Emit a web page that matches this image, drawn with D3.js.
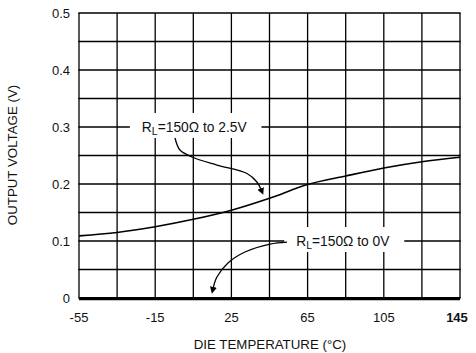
<!DOCTYPE html>
<html><head><meta charset="utf-8">
<script src="https://cdn.jsdelivr.net/npm/d3@7"></script>
<style>
body{margin:0;background:#fff}
svg{display:block}
text{font-family:"Liberation Sans",Arial,sans-serif;fill:#111}
</style>
</head><body><svg id="c" width="476" height="353"></svg>
<script>
// ---- data ----
const temps = [-55, -35, -15, 5, 25, 45, 65, 85, 105, 125, 145];
const vout25V = [0.109, 0.115, 0.125, 0.138, 0.154, 0.175, 0.199, 0.214, 0.228, 0.239, 0.247];
const vout0V = [0, 0, 0, 0, 0, 0, 0, 0, 0, 0, 0];
const xTickLabels = [-55, -15, 25, 65, 105, 145];
const yTickLabels = [0, 0.1, 0.2, 0.3, 0.4, 0.5];
const xGridValues = [-55, -35, -15, 5, 25, 45, 65, 85, 105, 125, 145];
const yGridValues = [0, 0.05, 0.1, 0.15, 0.2, 0.25, 0.3, 0.35, 0.4, 0.45, 0.5];
const labelTexts = [["R", "L", "=150\u03A9 to 2.5V"], ["R", "L", "=150\u03A9 to 0V"]];

// ---- layout ----
const margin = {left: 79, top: 13, right: 16, bottom: 55};
const W = 476, H = 353;
const svg = d3.select("#c");
const x = d3.scaleLinear().domain([-55, 145]).range([margin.left, W - margin.right]);
const y = d3.scaleLinear().domain([0, 0.5]).range([H - margin.bottom, margin.top]);

const g = svg.append("g");

// grid
g.append("g").attr("class", "vgrid")
  .selectAll("line").data(xGridValues).join("line")
  .attr("x1", d => x(d)).attr("x2", d => x(d))
  .attr("y1", y(0)).attr("y2", y(0.5))
  .attr("stroke", "#000").attr("stroke-width", 1.3);
g.append("g").attr("class", "hgrid")
  .selectAll("line").data(yGridValues).join("line")
  .attr("x1", x(-55) - 0.65).attr("x2", x(145) + 0.65)
  .attr("y1", d => y(d)).attr("y2", d => y(d))
  .attr("stroke", "#000").attr("stroke-width", 1.3);

// tick labels
g.append("g").selectAll("text").data(yTickLabels).join("text")
  .attr("x", x(-55) - 9).attr("y", d => y(d) + 5)
  .attr("text-anchor", "end").attr("font-size", 13)
  .text(d => d === 0 ? "0" : d3.format(".1f")(d));
g.append("g").selectAll("text").data(xTickLabels).join("text")
  .attr("x", d => x(d) - (d === 145 ? 3 : 0)).attr("y", 321.5)
  .attr("text-anchor", "middle").attr("font-size", 13)
  .attr("font-weight", d => d === 145 ? "bold" : "normal")
  .text(d => d);

// axis titles
svg.append("text").attr("x", 270).attr("y", 348.5).attr("text-anchor", "middle")
  .attr("font-size", 13.3).text("DIE TEMPERATURE (\u00B0C)");
svg.append("text").attr("transform", "translate(17,155) rotate(-90)")
  .attr("text-anchor", "middle").attr("font-size", 13.3).text("OUTPUT VOLTAGE (V)");

// series
const line = d3.line().x((d, i) => x(temps[i])).y(d => y(d)).curve(d3.curveMonotoneX);
g.append("path").datum(vout25V).attr("d", line)
  .attr("fill", "none").attr("stroke", "#000").attr("stroke-width", 1.6);
g.append("path").datum(vout0V).attr("d", line)
  .attr("fill", "none").attr("stroke", "#000").attr("stroke-width", 3.2)
  .attr("transform", "translate(0,0.7)");

// annotation labels (positions in data units)
const labels = [
  {t: 5.5, v: 0.3, text: labelTexts[0]},
  {t: 83.5, v: 0.1, text: labelTexts[1]}
];
labels.forEach(L => {
  const grp = svg.append("g");
  const txt = grp.append("text").attr("x", x(L.t)).attr("y", y(L.v) + 4.5)
    .attr("text-anchor", "middle").attr("font-size", 13.8);
  txt.append("tspan").text(L.text[0]);
  txt.append("tspan").attr("dy", 3).attr("font-size", 10.5).text(L.text[1]);
  txt.append("tspan").attr("dy", -3).text(L.text[2]);
  const bb = txt.node().getBBox();
  grp.insert("rect", "text")
    .attr("x", bb.x - 12).attr("width", bb.width + 26)
    .attr("y", y(L.v) - 14).attr("height", 25)
    .attr("fill", "#fff");
});

// arrows (data units)
const arrow1 = [[-4.6, 0.2807], [-2.0, 0.2596], [4.3, 0.2474], [17.4, 0.2333], [33.2, 0.2184], [38.4, 0.2035], [40.6, 0.190]];
const arrow2 = [[54.2, 0.0982], [45.3, 0.0947], [32.1, 0.0807], [23.2, 0.0614], [17.4, 0.0368], [15.4, 0.017]];
svg.append("defs").append("marker").attr("id", "ah")
  .attr("viewBox", "0 0 10 10").attr("refX", 2).attr("refY", 5)
  .attr("markerWidth", 7).attr("markerHeight", 7).attr("markerUnits", "userSpaceOnUse")
  .attr("orient", "auto")
  .append("path").attr("d", "M0,0 L10,5 L0,10 z").attr("fill", "#000");
const aline = d3.line().x(d => x(d[0])).y(d => y(d[1])).curve(d3.curveCatmullRom);
[arrow1, arrow2].forEach(a => {
  svg.append("path").attr("d", aline(a)).attr("fill", "none")
    .attr("stroke", "#000").attr("stroke-width", 1.3).attr("marker-end", "url(#ah)");
});
</script>
</body></html>
